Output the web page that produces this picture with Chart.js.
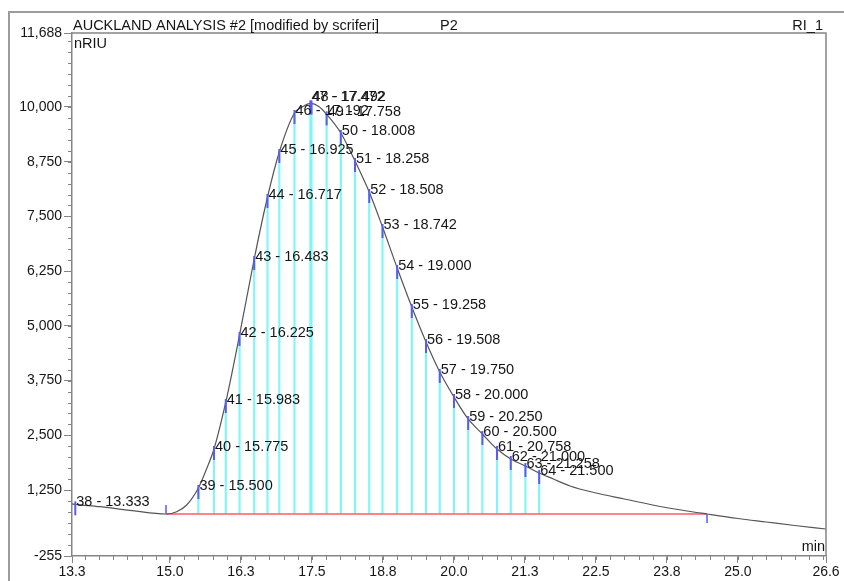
<!DOCTYPE html>
<html>
<head>
<meta charset="utf-8">
<title>AUCKLAND ANALYSIS #2</title>
<script src="https://cdn.jsdelivr.net/npm/chart.js@4.4.1/dist/chart.umd.min.js"></script>
<style>
  body { margin: 0; background: #fff; }
  canvas { display: block; }
</style>
</head>
<body>
<canvas id="chromChart" width="844" height="581"></canvas>
<script>
// detector trace (time in min, signal in nRIU)
const curveTimes = [13.275, 13.333, 13.76, 14.34, 14.93, 15.118, 15.294, 15.5, 15.64, 15.775, 15.983, 16.225,
    16.483, 16.717, 16.925, 17.192, 17.33, 17.475, 17.62, 17.758, 18.008, 18.258, 18.508, 18.742, 19.0,
    19.258, 19.508, 19.75, 20.0, 20.25, 20.5, 20.758, 21.0, 21.258, 21.5, 21.75, 22.043, 22.5, 23.0,
    23.5, 24.0, 24.455, 25.0, 25.5, 26.0, 26.55];
const curveValues = [935, 925, 871, 779, 704, 757, 910, 1298, 1720, 2188, 3262, 4792,
    6527, 7943, 8971, 9861, 10000, 10080, 10010, 9830, 9405, 8765, 8057, 7258, 6322,
    5431, 4632, 3947, 3376, 2874, 2531, 2188, 1960, 1800, 1640, 1503, 1344, 1184, 1047,
    910, 795, 704, 601, 521, 441, 362];

// slices
const sliceNumbers = [38, 39, 40, 41, 42, 43, 44, 45, 46, 47, 48, 49, 50, 51, 52, 53, 54, 55, 56, 57, 58, 59, 60, 61, 62, 63, 64];
const sliceTimes = [13.333, 15.5, 15.775, 15.983, 16.225, 16.483, 16.717, 16.925, 17.192, 17.472, 17.492, 17.758,
    18.008, 18.258, 18.508, 18.742, 19.0, 19.258, 19.508, 19.75, 20.0, 20.25, 20.5, 20.758, 21.0, 21.258, 21.5];
const sliceValues = [925, 1298, 2188, 3262, 4792, 6527, 7943, 8971, 9861, 10080, 10080, 9830,
    9405, 8765, 8057, 7258, 6322, 5431, 4632, 3947, 3376, 2874, 2531, 2188, 1960, 1800, 1640];

// integration baseline
const baselineTimes = [14.93, 24.455];
const baselineValues = [704, 704];

// axes
const xMin = 13.275, xMax = 26.55;
const xTickValues = [13.275, 15.0, 16.25, 17.5, 18.75, 20.0, 21.25, 22.5, 23.75, 25.0, 26.55];
const xTickLabels = ['13.3', '15.0', '16.3', '17.5', '18.8', '20.0', '21.3', '22.5', '23.8', '25.0', '26.6'];
const xMinorStep = 0.25;
const yMin = -255, yMax = 11688;
const yTickValues = [-255, 1250, 2500, 3750, 5000, 6250, 7500, 8750, 10000, 11688];
const yTickLabels = ['-255', '1,250', '2,500', '3,750', '5,000', '6,250', '7,500', '8,750', '10,000', '11,688'];
const yMinorStep = 250;

const FONT = "'Liberation Sans', Arial, sans-serif";
const TEXT = '#151515';
const AXIS_GREY = '#858585';

// frame, titles, minor ticks, slice markers and labels
const decorations = {
    id: 'decorations',
    beforeDraw(chart) {
        const ctx = chart.ctx;
        ctx.save();
        ctx.fillStyle = '#fff';
        ctx.fillRect(0, 0, chart.width, chart.height);
        ctx.strokeStyle = '#9c9c9c';
        ctx.lineWidth = 2;
        ctx.beginPath();
        ctx.moveTo(9, chart.height);
        ctx.lineTo(9, 12);
        ctx.lineTo(chart.width, 12);
        ctx.stroke();
        ctx.restore();
    },
    afterDatasetsDraw(chart) {
        const ctx = chart.ctx;
        const xs = chart.scales.x, ys = chart.scales.y;
        ctx.save();
        // blue slice markers
        ctx.strokeStyle = '#5b5bef';
        ctx.lineWidth = 2;
        sliceTimes.forEach((t, i) => {
            const px = xs.getPixelForValue(t);
            const py = ys.getPixelForValue(sliceValues[i]);
            ctx.beginPath();
            ctx.moveTo(px, py - 3);
            ctx.lineTo(px, py + 11);
            ctx.stroke();
        });
        // baseline ends
        const b0x = xs.getPixelForValue(baselineTimes[0]), b0y = ys.getPixelForValue(baselineValues[0]);
        const b1x = xs.getPixelForValue(baselineTimes[1]), b1y = ys.getPixelForValue(baselineValues[1]);
        ctx.lineWidth = 1.5;
        ctx.beginPath();
        ctx.moveTo(b0x, b0y); ctx.lineTo(b0x, b0y - 9);
        ctx.moveTo(b1x, b1y); ctx.lineTo(b1x, b1y + 9);
        ctx.stroke();
        // slice labels
        ctx.fillStyle = TEXT;
        ctx.font = '14.5px ' + FONT;
        ctx.textBaseline = 'middle';
        ctx.textAlign = 'left';
        sliceTimes.forEach((t, i) => {
            const px = xs.getPixelForValue(t);
            const py = ys.getPixelForValue(sliceValues[i]);
            const lift = sliceValues[i] > 10000 ? 6 : 2;
            ctx.fillText(sliceNumbers[i] + ' - ' + t.toFixed(3), px + 1, py - lift);
        });
        ctx.restore();
    },
    afterDraw(chart) {
        const ctx = chart.ctx;
        const a = chart.chartArea;
        const xs = chart.scales.x, ys = chart.scales.y;
        ctx.save();
        // top and right border of the plot box
        ctx.strokeStyle = AXIS_GREY;
        ctx.lineWidth = 1.5;
        ctx.beginPath();
        ctx.moveTo(a.left, a.top);
        ctx.lineTo(a.right, a.top);
        ctx.lineTo(a.right, a.bottom);
        ctx.stroke();
        // minor ticks
        ctx.lineWidth = 1;
        ctx.beginPath();
        for (let t = 15.0 - 6 * xMinorStep; t < xMax; t += xMinorStep) {
            if (t < xMin) continue;
            const px = Math.round(xs.getPixelForValue(t)) + 0.5;
            ctx.moveTo(px, a.bottom);
            ctx.lineTo(px, a.bottom + 4);
        }
        for (let v = 0; v < yMax; v += yMinorStep) {
            const py = Math.round(ys.getPixelForValue(v)) + 0.5;
            ctx.moveTo(a.left, py);
            ctx.lineTo(a.left - 4, py);
        }
        ctx.stroke();
        // header texts
        ctx.fillStyle = TEXT;
        ctx.font = '14.5px ' + FONT;
        ctx.textBaseline = 'alphabetic';
        ctx.textAlign = 'left';
        ctx.fillText('AUCKLAND ANALYSIS #2 [modified by scriferi]', 73, 30);
        ctx.fillText('P2', 440, 30);
        ctx.textAlign = 'right';
        ctx.fillText('RI_1', 823, 30);
        ctx.textAlign = 'left';
        ctx.fillText('nRIU', a.left + 2, a.top + 15);
        ctx.textAlign = 'right';
        ctx.fillText('min', a.right - 1, a.bottom - 5);
        ctx.restore();
    }
};

const ctx = document.getElementById('chromChart').getContext('2d');
const chromChart = new Chart(ctx, {
    type: 'line',
    data: {
        datasets: [
            {
                type: 'line',
                label: 'RI_1',
                data: curveTimes.map((t, i) => ({ x: t, y: curveValues[i] })),
                borderColor: '#555555',
                borderWidth: 1.2,
                pointRadius: 0,
                cubicInterpolationMode: 'monotone',
                fill: false,
                order: 0
            },
            {
                type: 'line',
                label: 'baseline',
                data: baselineTimes.map((t, i) => ({ x: t, y: baselineValues[i] })),
                borderColor: 'rgba(255, 110, 110, 0.85)',
                borderWidth: 2,
                pointRadius: 0,
                fill: false,
                order: 1
            },
            {
                type: 'bar',
                label: 'slices',
                data: sliceTimes.slice(1).map((t, i) => ({ x: t, y: [baselineValues[0], sliceValues[i + 1]] })),
                backgroundColor: '#80f6f6',
                barThickness: 1.5,
                order: 2
            }
        ]
    },
    options: {
        responsive: false,
        animation: false,
        events: [],
        layout: { padding: { top: 33, right: 18, bottom: 0, left: 0 } },
        plugins: {
            legend: { display: false },
            tooltip: { enabled: false }
        },
        scales: {
            x: {
                type: 'linear',
                min: xMin,
                max: xMax,
                offset: false,
                afterFit: scale => { scale.height = 25; },
                afterBuildTicks: scale => { scale.ticks = xTickValues.map(v => ({ value: v })); },
                ticks: {
                    autoSkip: false,
                    maxRotation: 0,
                    padding: 1,
                    color: TEXT,
                    font: { family: FONT, size: 14 },
                    callback: (value, index) => xTickLabels[index]
                },
                grid: { drawOnChartArea: false, offset: false, tickLength: 7, tickColor: AXIS_GREY },
                border: { color: AXIS_GREY, width: 1.5 }
            },
            y: {
                type: 'linear',
                min: yMin,
                max: yMax,
                beginAtZero: false,
                afterFit: scale => { scale.width = 72; },
                afterBuildTicks: scale => { scale.ticks = yTickValues.map(v => ({ value: v })); },
                ticks: {
                    autoSkip: false,
                    padding: 2,
                    color: TEXT,
                    font: { family: FONT, size: 14 },
                    callback: (value, index) => yTickLabels[index]
                },
                grid: { drawOnChartArea: false, tickLength: 8, tickColor: AXIS_GREY },
                border: { color: AXIS_GREY, width: 1.5 }
            }
        }
    },
    plugins: [decorations]
});
</script>
</body>
</html>
